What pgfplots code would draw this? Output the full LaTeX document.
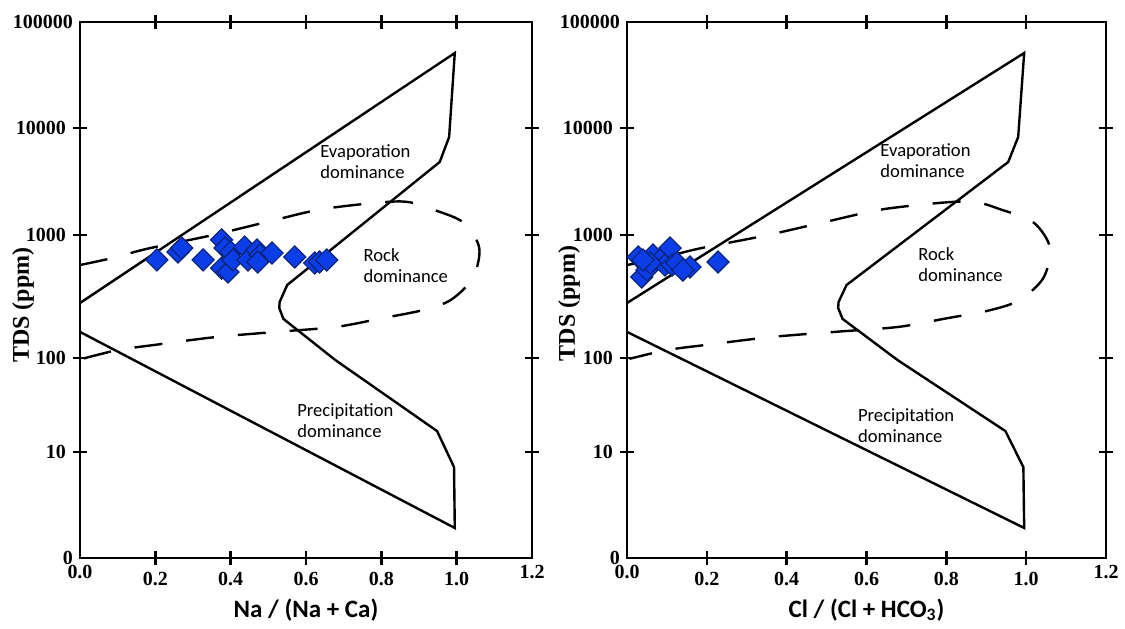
\documentclass[border=0pt]{standalone}
\usepackage{fontspec}
\setmainfont{Liberation Serif}
\newfontfamily\calibri{Carlito}
\usepackage{pgfplots}
\usepackage{pgfplotstable}
\pgfplotsset{compat=1.18}
\definecolor{dblue}{RGB}{12,62,232}
\definecolor{dedge}{RGB}{10,35,120}

% The printed TDS scale of the original figure is not evenly spaced:
% each decade has its own length (in 1/2 pt units from the bottom).
\newcommand\tdspos[1]{%
  \begingroup
  \pgfkeys{/pgf/fpu=true,/pgf/fpu/output format=fixed}%
  \pgfmathparse{log10(#1)}%
  \let\tdsL=\pgfmathresult
  \pgfmathparse{\tdsL<1 ? 106*\tdsL : (\tdsL<2 ? 106+94*(\tdsL-1) : (\tdsL<3 ? 200+123*(\tdsL-2) : (\tdsL<4 ? 323+107*(\tdsL-3) : 430+106*(\tdsL-4))))}%
  \pgfmathsmuggle\pgfmathresult
  \endgroup}

\pgfplotstableread{
x y
0 280
0.995 51000
0.98 8240
0.955 4810
0.55 392
0.53 285
0.529 255
0.54 208
0.678 95
0.948 16.7
0.993 7.2
0.995 1.92
0 163
}\boundarytab

\pgfplotstableread{
x y
0 570
0.086 650
0.18 775
0.35 995
0.51 1360
0.65 1760
0.85 2060
0.94 1714
1.02 1295
1.06 783
1.043 447
0.984 296
0.91 245
0.8 210
0.68 179
0.52 163
0.36 148
0.2 128
0.1 116
0.006 98
}\dashtab

\pgfplotstableread{
x y
0.204 627
0.26 728
0.27 784
0.327 627
0.376 911
0.385 784
0.40 728
0.376 539
0.393 500
0.406 627
0.437 798
0.446 627
0.47 755
0.478 687
0.472 603
0.51 714
0.57 663
0.623 592
0.636 603
0.655 627
}\natab

\pgfplotstableread{
x y
0.028 663
0.037 456
0.05 519
0.065 687
0.083 627
0.095 570
0.108 784
0.113 570
0.125 592
0.158 549
0.228 603
0.058 592
0.04 627
0.14 519
}\cltab

\tikzset{
  bnd/.style={black, line width=1.2pt},
  dsh/.style={black, line width=1.2pt, dash pattern=on 14pt off 12pt},
  lab/.style={font=\calibri\fontsize{9.3}{10.5}\selectfont, align=left, anchor=north west, inner sep=0pt},
}

\begin{document}
\begin{tikzpicture}
\useasboundingbox (0pt,0pt) rectangle (562.5pt,314pt);

\begin{axis}[at={(40pt,35pt)}, anchor=south west, width=226pt,
    scale only axis, height=268pt,
    y coord trafo/.code={\tdspos{#1}},
    xmin=0, xmax=1.2, ymin=1, ymax=100000,
    axis line style={line width=1.4pt},
    xtick={0.2,0.4,0.6,0.8,1.0},
    xticklabels={0.2,0.4,0.6,0.8,1.0},
    extra x ticks={0,1.2},
    extra x tick labels={0.0,1.2},
    extra x tick style={major tick length=0pt},
    ytick={10,100,1000,10000},
    yticklabels={10,100,1000,10000},
    extra y ticks={1,100000},
    extra y tick labels={0,100000},
    extra y tick style={major tick length=0pt},
    xminorticks=false, yminorticks=false,
    tick align=center,
    major tick length=7pt,
    every tick/.style={line width=1.2pt, black},
    tick label style={font=\bfseries\fontsize{10}{12}\selectfont},
    ylabel={TDS (ppm)},
    xlabel={Na / (Na + Ca)},
    xlabel style={font=\calibri\bfseries\fontsize{12.5}{14}\selectfont, at={(axis description cs:0.5,-0.097)}, anchor=center},
    ylabel style={font=\bfseries\fontsize{12}{14}\selectfont, at={(axis description cs:-0.126,0.472)}, anchor=center}]
  \addplot[bnd, no markers] table {\boundarytab};
  \addplot[dsh, no markers, smooth, tension=0.5] table {\dashtab};
  \addplot[only marks, mark=square*, mark size=3.9pt, mark options={rotate=45, fill=dblue, draw=dedge, line width=0.6pt}] table {\natab};
  \node[lab] at (axis cs:0.637,7080) {Evaporation\\dominance};
  \node[lab] at (axis cs:0.752,783) {Rock\\dominance};
  \node[lab] at (axis cs:0.576,33.2) {Precipitation\\dominance};
\end{axis}

\begin{axis}[at={(313.5pt,35pt)}, anchor=south west, width=239.5pt,
    scale only axis, height=268pt,
    y coord trafo/.code={\tdspos{#1}},
    xmin=0, xmax=1.2, ymin=1, ymax=100000,
    axis line style={line width=1.4pt},
    xtick={0.2,0.4,0.6,0.8,1.0},
    xticklabels={0.2,0.4,0.6,0.8,1.0},
    extra x ticks={0,1.2},
    extra x tick labels={0.0,1.2},
    extra x tick style={major tick length=0pt},
    ytick={10,100,1000,10000},
    yticklabels={10,100,1000,10000},
    extra y ticks={1,100000},
    extra y tick labels={0,100000},
    extra y tick style={major tick length=0pt},
    xminorticks=false, yminorticks=false,
    tick align=center,
    major tick length=7pt,
    every tick/.style={line width=1.2pt, black},
    tick label style={font=\bfseries\fontsize{10}{12}\selectfont},
    ylabel={TDS (ppm)},
    xlabel={Cl / (Cl + HCO\textsubscript{3})},
    xlabel style={font=\calibri\bfseries\fontsize{12.5}{14}\selectfont, at={(axis description cs:0.5,-0.097)}, anchor=center},
    ylabel style={font=\bfseries\fontsize{12}{14}\selectfont, at={(axis description cs:-0.121,0.475)}, anchor=center}]
  \addplot[bnd, no markers] table {\boundarytab};
  \addplot[dsh, no markers, smooth, tension=0.5] table {\dashtab};
  \addplot[only marks, mark=square*, mark size=3.9pt, mark options={rotate=45, fill=dblue, draw=dedge, line width=0.6pt}] table {\cltab};
  \node[lab] at (axis cs:0.634,7240) {Evaporation\\dominance};
  \node[lab] at (axis cs:0.729,798) {Rock\\dominance};
  \node[lab] at (axis cs:0.578,29.4) {Precipitation\\dominance};
\end{axis}
\end{tikzpicture}
\end{document}
